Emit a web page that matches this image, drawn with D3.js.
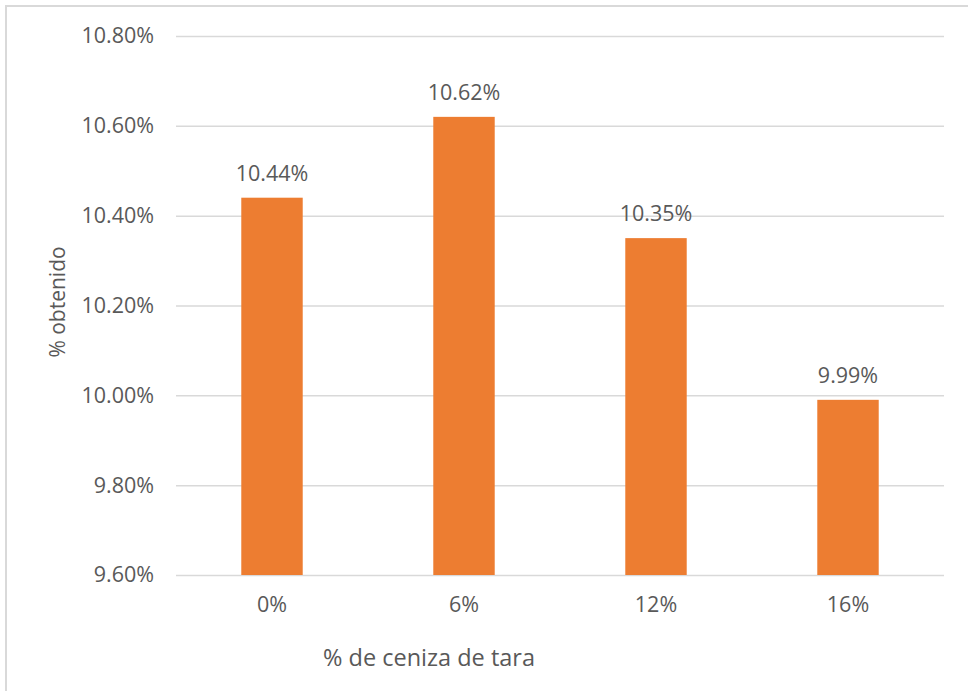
<!DOCTYPE html>
<html>
<head>
<meta charset="utf-8">
<script src="https://cdn.jsdelivr.net/npm/d3@7"></script>
<style>
  body { margin: 0; background: #fff; }
  svg { display: block; }
</style>
</head>
<body>
<svg id="chart"></svg>
<script>
const categories = ["0%", "6%", "12%", "16%"]
const values = [10.44, 10.62, 10.35, 9.99]
const yTicks = [9.6, 9.8, 10.0, 10.2, 10.4, 10.6, 10.8]

const width = 968
const height = 691
const margin = { top: 36, right: 24, bottom: 116, left: 176 }

const textColor = "#595959"
const gridColor = "#d9d9d9"
const barColor = "#ed7d31"
const fontFamily = "'Open Sans', 'Noto Sans', sans-serif"

const svg = d3.select("#chart")
    .attr("width", width)
    .attr("height", height)
    .style("font-family", fontFamily)

// chart border (only left and top visible in the picture)
svg.append("path")
    .attr("d", "M6," + height + "V6H" + width)
    .attr("fill", "none")
    .attr("stroke", gridColor)
    .attr("stroke-width", 2)

const x = d3.scaleBand()
    .domain(categories)
    .range([margin.left, width - margin.right])
    .paddingInner(0.68)
    .paddingOuter(0.34)

const y = d3.scaleLinear()
    .domain([9.6, 10.8])
    .range([height - margin.bottom, margin.top])

const fmt = d => d.toFixed(2) + "%"

// gridlines + y labels
const yAxis = svg.append("g")
    .attr("transform", "translate(" + margin.left + ",0)")
    .call(d3.axisLeft(y)
        .tickValues(yTicks)
        .tickSize(-(width - margin.left - margin.right))
        .tickPadding(22)
        .tickFormat(fmt))
yAxis.select(".domain").remove()
yAxis.selectAll(".tick line")
    .attr("stroke", gridColor)
    .attr("stroke-width", 1.5)
yAxis.selectAll(".tick text")
    .attr("fill", textColor)
    .style("font-size", "21.5px")
    .style("font-family", fontFamily)

// bars
svg.selectAll(".bar")
    .data(values)
    .enter()
    .append("rect")
    .attr("class", "bar")
    .attr("x", (d, i) => x(categories[i]))
    .attr("width", x.bandwidth())
    .attr("y", d => y(d))
    .attr("height", d => y(9.6) - y(d))
    .attr("fill", barColor)

// data labels
svg.selectAll(".label")
    .data(values)
    .enter()
    .append("text")
    .attr("class", "label")
    .attr("x", (d, i) => x(categories[i]) + x.bandwidth() / 2)
    .attr("y", d => y(d) - 17)
    .attr("text-anchor", "middle")
    .attr("fill", textColor)
    .style("font-size", "21.5px")
    .text(d => fmt(d))

// x labels
const xAxis = svg.append("g")
    .attr("transform", "translate(0," + (height - margin.bottom) + ")")
    .call(d3.axisBottom(x).tickSize(0).tickPadding(22))
xAxis.select(".domain").remove()
xAxis.selectAll(".tick text")
    .attr("fill", textColor)
    .style("font-size", "21.5px")
    .style("font-family", fontFamily)

// axis titles
svg.append("text")
    .attr("x", 429)
    .attr("y", 666)
    .attr("text-anchor", "middle")
    .attr("fill", textColor)
    .style("font-size", "23.5px")
    .text("% de ceniza de tara")

svg.append("text")
    .attr("transform", "translate(65,302) rotate(-90)")
    .attr("text-anchor", "middle")
    .attr("fill", textColor)
    .style("font-size", "21px")
    .text("% obtenido")
</script>
</body>
</html>
